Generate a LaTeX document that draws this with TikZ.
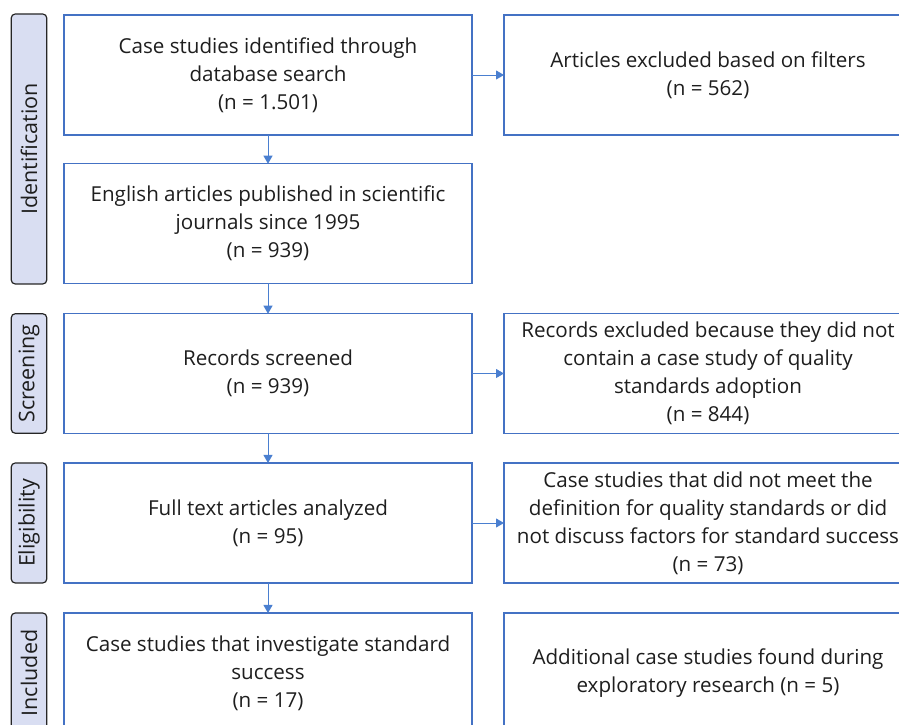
\documentclass[tikz,border=0pt]{standalone}
\usepackage{fontspec}
\setmainfont{Open Sans}
\usetikzlibrary{arrows.meta}
\definecolor{boxblue}{HTML}{4472C4}
\definecolor{arrowblue}{HTML}{4A7FD0}
\definecolor{lav}{HTML}{D9DEF2}
\definecolor{txt}{HTML}{1E1E1E}
\begin{document}
\begin{tikzpicture}[x=1pt,y=1pt,
  box/.style={draw=boxblue,line width=1.4pt,fill=white,minimum width=408pt,minimum height=120pt,
    align=center,inner sep=0pt,outer sep=0pt,text=txt,font=\fontsize{20.6}{28}\selectfont},
  phase/.style={draw=black!85,line width=1.2pt,fill=lav,rounded corners=4pt,minimum width=35.5pt,
    inner sep=0pt,outer sep=0pt},
  phasetext/.style={rotate=90,text=txt,font=\fontsize{21.5}{24}\selectfont},
  arr/.style={draw=arrowblue,line width=0.9pt,-{Triangle[length=8pt,width=9pt]}}]
\useasboundingbox (0,0) rectangle (899,725);
\clip (0,0) rectangle (899,725);
% phases
\node[phase,minimum height=270pt] (pid) at (29,576) {};
\node[phasetext] at (pid.center) {Identification};
\node[phase,minimum height=119.5pt] (psc) at (29,351.5) {};
\node[phasetext] at (psc.center) {Screening};
\node[phase,minimum height=120pt] (pel) at (29,202) {};
\node[phasetext] at (pel.center) {Eligibility};
\node[phase,minimum height=120pt] (pin) at (29,52) {};
\node[phasetext] at (pin.center) {Included};
% left column
\node[box] (b1) at (268,650) {Case studies identified through\\database search\\(n = 1.501)};
\node[box,minimum height=119.5pt] (b2) at (268,501.5) {English articles published in scientific\\journals since 1995\\(n = 939)};
\node[box,minimum height=119.5pt] (b3) at (268,351.5) {Records screened\\(n = 939)};
\node[box] (b4) at (268,202) {Full text articles analyzed\\(n = 95)};
\node[box] (b5) at (268,52) {Case studies that investigate standard\\success\\(n = 17)};
% right column
\node[box] (r1) at (708,650) {Articles excluded based on filters\\(n = 562)};
\node[box,minimum height=119.5pt] (r2) at (708,351.5) {Records excluded because they did not\\contain a case study of quality\\standards adoption\\(n = 844)};
\node[box] (r3) at (708,202) {Case studies that did not meet the\\definition for quality standards or did\\not discuss factors for standard success\\(n = 73)};
\node[box] (r4) at (708,52) {Additional case studies found during\\exploratory research (n = 5)};
% arrows
\draw[arr] (b1) -- (b2);
\draw[arr] (b2) -- (b3);
\draw[arr] (b3) -- (b4);
\draw[arr] (b4) -- (b5);
\draw[arr] (b1) -- (r1);
\draw[arr] (b3) -- (r2);
\draw[arr] (b4) -- (r3);
\end{tikzpicture}
\end{document}
